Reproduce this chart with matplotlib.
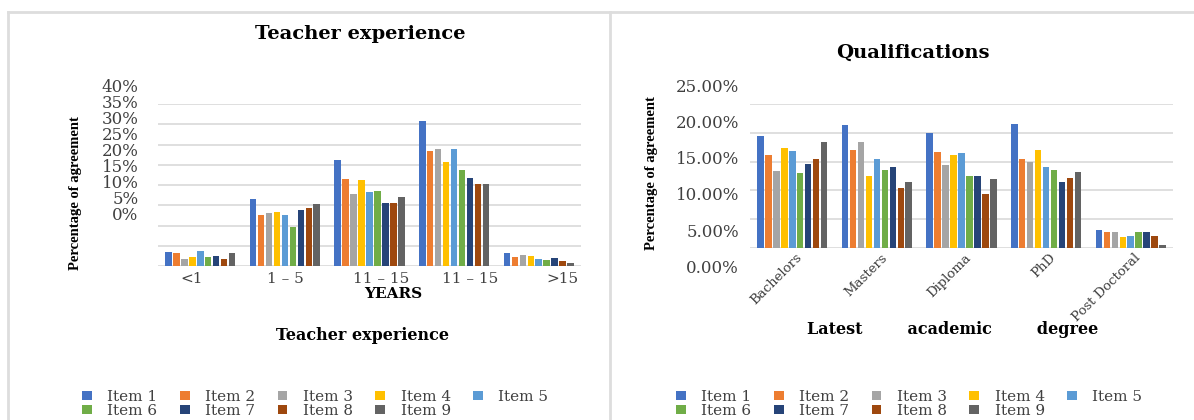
import numpy as np
import matplotlib.pyplot as plt
import matplotlib.transforms as mtransforms
from matplotlib.lines import Line2D

# Teacher experience (share of agreement, %)
years = ['<1', '1 – 5', '11 – 15', '11 – 15', '>15']
exp_item1 = [3.4, 16.5, 26.2, 35.9, 3.1]
exp_item2 = [3.1, 12.7, 21.6, 28.5, 2.2]
exp_item3 = [1.7, 13.0, 17.9, 28.9, 2.7]
exp_item4 = [2.3, 13.3, 21.2, 25.8, 2.5]
exp_item5 = [3.6, 12.7, 18.3, 28.9, 1.7]
exp_item6 = [2.1, 9.6, 18.6, 23.6, 1.5]
exp_item7 = [2.4, 13.8, 15.6, 21.7, 1.9]
exp_item8 = [1.7, 14.2, 15.6, 20.3, 1.2]
exp_item9 = [3.1, 15.2, 17.0, 20.3, 0.7]

# Qualifications (share of agreement, %)
degrees = ['Bachelors', 'Masters', 'Diploma', 'PhD', 'Post Doctoral']
qual_item1 = [19.4, 21.4, 20.0, 21.5, 3.2]
qual_item2 = [16.1, 17.1, 16.6, 15.5, 2.8]
qual_item3 = [13.3, 18.4, 14.4, 15.0, 2.8]
qual_item4 = [17.4, 12.5, 16.1, 17.1, 1.9]
qual_item5 = [16.8, 15.4, 16.5, 14.0, 2.1]
qual_item6 = [13.1, 13.5, 12.5, 13.5, 2.8]
qual_item7 = [14.5, 14.0, 12.5, 11.5, 2.8]
qual_item8 = [15.4, 10.4, 9.3, 12.1, 2.1]
qual_item9 = [18.4, 11.5, 11.9, 13.2, 0.6]

items = ['Item %d' % i for i in range(1, 10)]
colors = ['#4472C4', '#ED7D31', '#A5A5A5', '#FFC000', '#5B9BD5',
          '#70AD47', '#264478', '#9E480E', '#636363']

exp_series = [exp_item1, exp_item2, exp_item3, exp_item4, exp_item5,
              exp_item6, exp_item7, exp_item8, exp_item9]
qual_series = [qual_item1, qual_item2, qual_item3, qual_item4, qual_item5,
               qual_item6, qual_item7, qual_item8, qual_item9]

SERIF = 'DejaVu Serif'
TXT = '#404040'

fig = plt.figure(figsize=(11.94, 4.2), dpi=100)
W, H = 1194.0, 420.0


def fx(px):
    return px / W


def fy(py):
    return 1 - py / H


# outer frame and divider
frame = dict(color='#DDDDDD', lw=2, transform=fig.transFigure)
fig.add_artist(Line2D([fx(8), 1], [fy(12), fy(12)], **frame))
fig.add_artist(Line2D([fx(8), fx(8)], [fy(12), 0], **frame))
fig.add_artist(Line2D([fx(610), fx(610)], [fy(12), 0], **frame))


def grouped_bars(ax, series, ymax, step):
    x = np.arange(len(series[0]))
    pitch = 0.094
    for i, vals in enumerate(series):
        ax.bar(x + (i - 4) * pitch, vals, width=0.076, color=colors[i],
               label=items[i], zorder=3)
    ax.set_xlim(-0.5, len(x) - 0.5)
    ax.set_ylim(0, ymax)
    ax.set_yticks(np.arange(0, ymax + 0.01, step))
    ax.yaxis.grid(True, color='#D9D9D9', lw=1.2, zorder=0)
    ax.tick_params(axis='y', left=False, labelleft=False)
    ax.tick_params(axis='x', bottom=False)
    for s in ax.spines.values():
        s.set_visible(False)
    return x


def tick_labels(rect, ymax, step, fmt, pad):
    # y tick labels sit on their own frameless axes
    lab = fig.add_axes(rect)
    lab.set_ylim(0, ymax)
    lab.set_yticks(np.arange(0, ymax + 0.01, step))
    lab.set_yticklabels([fmt % v for v in np.arange(0, ymax + 0.01, step)],
                        family=SERIF, fontsize=12, color=TXT)
    lab.tick_params(axis='y', length=0, pad=pad)
    lab.set_xticks([])
    lab.patch.set_alpha(0)
    for s in lab.spines.values():
        s.set_visible(False)


def legend(ax, x0):
    handles, labels = ax.get_legend_handles_labels()
    # legend fills column by column; reorder so rows read Item 1..5, 6..9
    order = [0, 5, 1, 6, 2, 7, 3, 8, 4]
    fig.legend([handles[i] for i in order], [labels[i] for i in order],
               loc='upper left', bbox_to_anchor=(fx(x0), fy(382)), ncol=5,
               frameon=False, prop={'family': SERIF, 'size': 11},
               handlelength=0.65, handleheight=0.5, handletextpad=1.0,
               columnspacing=1.48, labelspacing=0.0, borderpad=0,
               labelcolor=TXT)


# ---- left chart: teacher experience
ax1 = fig.add_axes([fx(158), fy(266), fx(581) - fx(158), fy(104) - fy(266)])
x1 = grouped_bars(ax1, exp_series, 40, 5)
ax1.set_xticks(x1 + np.array([-0.1, 0.0, 0.14, 0.19, 0.28]))
ax1.set_xticklabels(years, family=SERIF, fontsize=11, color=TXT)
ax1.tick_params(axis='x', pad=1)
tick_labels([fx(158), fy(214), fx(581) - fx(158), fy(85) - fy(214)],
            40, 5, '%d%%', 14)
fig.text(fx(360), fy(34), 'Teacher experience', family=SERIF,
         fontweight='bold', fontsize=14, ha='center', va='center')
fig.text(fx(393), fy(294), 'YEARS', family=SERIF, fontweight='bold',
         fontsize=11, ha='center', va='center')
fig.text(fx(363), fy(336), 'Teacher experience', family=SERIF,
         fontweight='bold', fontsize=11.5, ha='center', va='center')
fig.text(fx(76), fy(193), 'Percentage of agreement',
         family='Liberation Serif', fontweight='bold', fontsize=10.5,
         rotation=90, ha='center', va='center')
legend(ax1, 74)

# ---- right chart: qualifications
ax2 = fig.add_axes([fx(750), fy(248), fx(1173) - fx(750), fy(104) - fy(248)])
x2 = grouped_bars(ax2, qual_series, 25, 5)
ax2.set_xticks(x2)
ax2.set_xticklabels(degrees, family=SERIF, fontsize=9.5, color=TXT,
                    rotation=45, ha='right', va='center',
                    rotation_mode='anchor')
ax2.tick_params(axis='x', pad=2)
shift = mtransforms.ScaledTranslation(8 / 100, 0, fig.dpi_scale_trans)
for t in ax2.get_xticklabels():
    t.set_transform(t.get_transform() + shift)
tick_labels([fx(750), fy(266.5), fx(1173) - fx(750), fy(85) - fy(266.5)],
            25, 5, '%.2f%%', 8)
fig.text(fx(913), fy(53), 'Qualifications', family=SERIF,
         fontweight='bold', fontsize=14, ha='center', va='center')
fig.text(fx(953), fy(330), 'Latest        academic        degree',
         family=SERIF, fontweight='bold', fontsize=11.5, ha='center',
         va='center')
fig.text(fx(652), fy(173), 'Percentage of agreement',
         family='Liberation Serif', fontweight='bold', fontsize=10.5,
         rotation=90, ha='center', va='center')
legend(ax2, 668)

fig.savefig('out.png', dpi=100)
